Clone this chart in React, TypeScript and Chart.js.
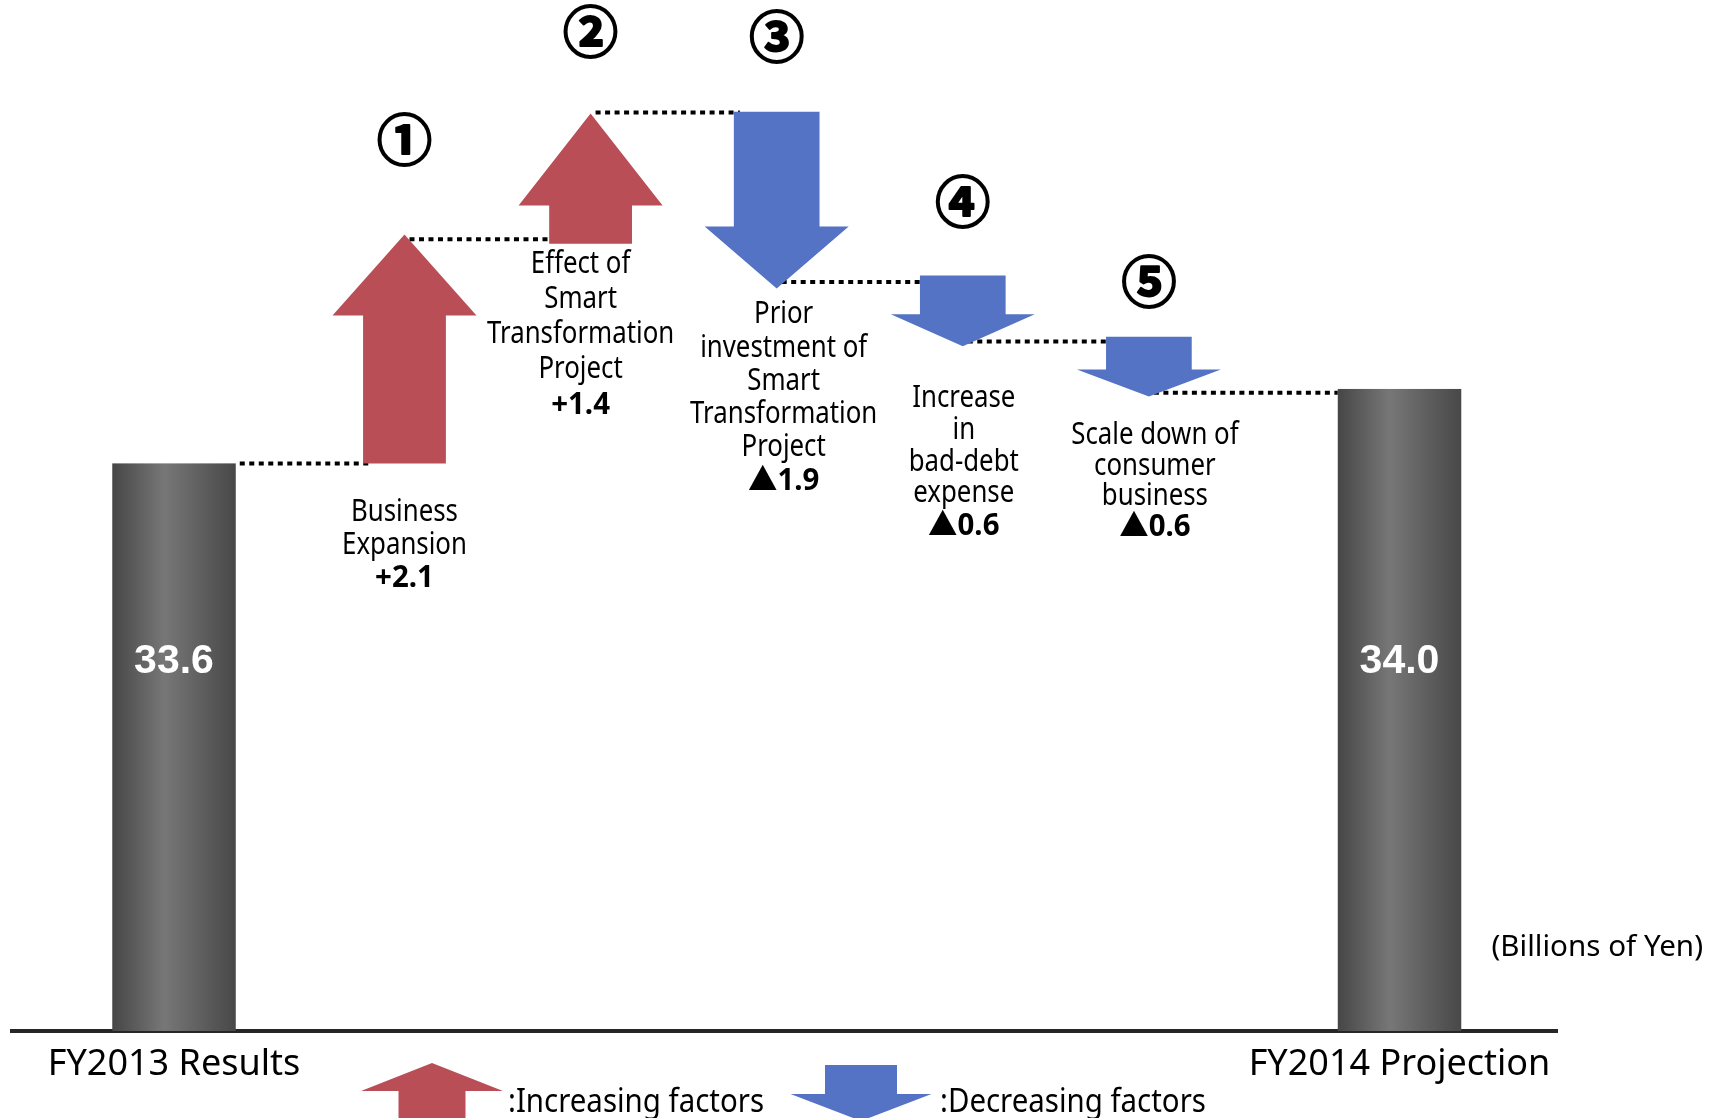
import { useEffect, useRef } from 'react';
import { Chart, registerables } from 'chart.js';

Chart.register(...registerables);

// ---------------- data ----------------
const totalLabels = ['FY2013 Results', 'FY2014 Projection'];
const totalValues = [33.6, 34.0];

const factorNames = [
  ['Business', 'Expansion'],
  ['Effect of', 'Smart', 'Transformation', 'Project'],
  ['Prior', 'investment of', 'Smart', 'Transformation', 'Project'],
  ['Increase', 'in', 'bad-debt', 'expense'],
  ['Scale down of', 'consumer', 'business'],
];
const factorValues = [2.1, 1.4, -1.9, -0.6, -0.6];
const factorMarks = ['①', '②', '③', '④', '⑤'];
// extent of each arrow as drawn (schematic)
const arrowFrom = [33.6, 34.78, 35.49, 34.61, 34.28];
const arrowTo = [34.83, 35.48, 34.54, 34.23, 33.96];

const unitLabel = '(Billions of Yen)';
const legendLabels = [':Increasing factors', ':Decreasing factors'];

// ---------------- styles ----------------
const RED = '#BA4E57';
const BLUE = '#5473C4';
const TEXT_FONT = '"Noto Sans", "Noto Sans CJK JP", sans-serif';
const TEXT_SCALE = 0.86;
const arrowHead = [81, 92, 62, 32, 27];
const labelGap = [58, 29, 35, 61, 48];
const labelLead = [32.5, 35, 33.2, 31.7, 30.3];
const labelDx = [0, -10, 7, 1, 6];
const markRise = [95, 82, 76, 74, 56];

const fmt = (v: number) => (v > 0 ? '+' : '▲') + Math.abs(v).toFixed(1);

function drawText(
  ctx: CanvasRenderingContext2D,
  text: string,
  x: number,
  y: number,
  font: string,
  sx: number,
  align: CanvasTextAlign = 'center',
  baseline: CanvasTextBaseline = 'alphabetic',
  color = '#000',
  strokeW = 0
) {
  ctx.save();
  ctx.translate(x, y);
  ctx.scale(sx, 1);
  ctx.font = font;
  ctx.textAlign = align;
  ctx.textBaseline = baseline;
  ctx.fillStyle = color;
  ctx.fillText(text, 0, 0);
  if (strokeW > 0) {
    ctx.strokeStyle = color;
    ctx.lineWidth = strokeW;
    ctx.lineJoin = 'round';
    ctx.strokeText(text, 0, 0);
  }
  ctx.restore();
}

function arrowPath(
  ctx: CanvasRenderingContext2D,
  cx: number,
  top: number,
  bottom: number,
  headW: number,
  shaftW: number,
  headH: number,
  up: boolean
) {
  ctx.beginPath();
  if (up) {
    ctx.moveTo(cx, top);
    ctx.lineTo(cx + headW / 2, top + headH);
    ctx.lineTo(cx + shaftW / 2, top + headH);
    ctx.lineTo(cx + shaftW / 2, bottom);
    ctx.lineTo(cx - shaftW / 2, bottom);
    ctx.lineTo(cx - shaftW / 2, top + headH);
    ctx.lineTo(cx - headW / 2, top + headH);
  } else {
    ctx.moveTo(cx - shaftW / 2, top);
    ctx.lineTo(cx + shaftW / 2, top);
    ctx.lineTo(cx + shaftW / 2, bottom - headH);
    ctx.lineTo(cx + headW / 2, bottom - headH);
    ctx.lineTo(cx, bottom);
    ctx.lineTo(cx - headW / 2, bottom - headH);
    ctx.lineTo(cx - shaftW / 2, bottom - headH);
  }
  ctx.closePath();
  ctx.fill();
}

const shaftRatio = (up: boolean) => (up ? 0.575 : 0.595);
const TOTAL_W = 123.5;

const decorPlugin = {
  id: 'waterfallDecor',
  beforeDatasetsDraw(chart: any) {
    const ctx: CanvasRenderingContext2D = chart.ctx;
    const tot = chart.getDatasetMeta(0).data.map((e: any) => e.getProps(['x', 'y', 'base', 'width'], true));
    const arr = chart.getDatasetMeta(1).data.map((e: any) => e.getProps(['x', 'y', 'base', 'width'], true));
    type Node = { endY: number; startY: number; xOut: number; xIn: number };
    const nodes: Node[] = [];
    nodes.push({ endY: tot[0].y, startY: tot[0].y, xOut: tot[0].x + tot[0].width / 2 + 4, xIn: tot[0].x - tot[0].width / 2 });
    arr.forEach((a: any, i: number) => {
      const up = factorValues[i] > 0;
      nodes.push({
        endY: up ? a.y : a.base,
        startY: up ? a.base : a.y,
        xOut: a.x + 5,
        xIn: a.x - (a.width * shaftRatio(up)) / 2 + 6,
      });
    });
    nodes.push({ endY: tot[1].y, startY: tot[1].y, xOut: tot[1].x + tot[1].width / 2, xIn: tot[1].x - tot[1].width / 2 });
    ctx.save();
    ctx.strokeStyle = '#000';
    ctx.lineWidth = 4;
    ctx.setLineDash([5, 4.5]);
    for (let i = 0; i < nodes.length - 1; i++) {
      const a = nodes[i];
      const b = nodes[i + 1];
      const y = (a.endY + b.startY) / 2;
      ctx.beginPath();
      ctx.moveTo(a.xOut, y);
      ctx.lineTo(b.xIn, y);
      ctx.stroke();
    }
    ctx.restore();
  },
  beforeDatasetDraw(chart: any, args: any) {
    const ctx: CanvasRenderingContext2D = chart.ctx;
    const bottomPx = chart.chartArea.bottom;
    if (args.index === 0) {
      ctx.save();
      args.meta.data.forEach((el: any) => {
        const { x, y, base, width } = el.getProps(['x', 'y', 'base', 'width'], true);
        const b = Math.min(base, bottomPx);
        const g = ctx.createLinearGradient(x - width / 2, 0, x + width / 2, 0);
        g.addColorStop(0, '#464646');
        g.addColorStop(0.42, '#777777');
        g.addColorStop(1, '#484848');
        ctx.fillStyle = g;
        ctx.fillRect(x - width / 2, y, width, b - y);
      });
      ctx.restore();
      return false;
    }
    if (args.index !== 1) return;
    ctx.save();
    args.meta.data.forEach((el: any, i: number) => {
      const { x, y, base, width } = el.getProps(['x', 'y', 'base', 'width'], true);
      const up = factorValues[i] > 0;
      ctx.fillStyle = up ? RED : BLUE;
      arrowPath(ctx, x, y, base, width, width * shaftRatio(up), arrowHead[i], up);
    });
    ctx.restore();
    return false;
  },
  afterDatasetsDraw(chart: any) {
    const ctx: CanvasRenderingContext2D = chart.ctx;
    const area = chart.chartArea;
    // labels inside totals
    chart.getDatasetMeta(0).data.forEach((el: any, i: number) => {
      const { x } = el.getProps(['x'], true);
      drawText(ctx, totalValues[i].toFixed(1), x, area.top + 673, 'bold 41px "Liberation Sans", Arial, sans-serif', 1, 'center', 'alphabetic', '#fff');
    });
    // factor labels + circled numbers
    chart.getDatasetMeta(1).data.forEach((el: any, i: number) => {
      const { x, y, base } = el.getProps(['x', 'y', 'base'], true);
      const cx = x + labelDx[i];
      let by = base + labelGap[i];
      factorNames[i].forEach((line) => {
        drawText(ctx, line, cx, by, `30px ${TEXT_FONT}`, TEXT_SCALE);
        by += labelLead[i];
      });
      drawText(ctx, fmt(factorValues[i]), cx, by + 1, `bold 31px ${TEXT_FONT}`, 0.95);
      drawText(ctx, factorMarks[i], x, y - markRise[i], 'bold 55px "Noto Sans CJK JP", sans-serif', 1, 'center', 'middle', '#000', 2);
    });
    // unit
    drawText(ctx, unitLabel, chart.width - 18, area.bottom - 75, `29px ${TEXT_FONT}`, 1.02, 'right');
    // legend
    const ly = chart.height;
    ctx.save();
    ctx.fillStyle = RED;
    arrowPath(ctx, 432, ly - 55, ly + 10, 142, 67, 28, true);
    ctx.fillStyle = BLUE;
    arrowPath(ctx, 861, ly - 53, ly + 3, 141, 72, 27, false);
    ctx.restore();
    drawText(ctx, legendLabels[0], 508, ly - 6, `32px ${TEXT_FONT}`, 0.92, 'left');
    drawText(ctx, legendLabels[1], 940, ly - 6, `32px ${TEXT_FONT}`, 0.92, 'left');
  },
};

export default function App() {
  const ref = useRef<HTMLCanvasElement | null>(null);
  useEffect(() => {
    if (!ref.current) return;
    const chart = new Chart(ref.current, {
      type: 'bar',
      data: {
        datasets: [
          {
            label: 'Totals',
            data: totalValues.map((v, i) => ({ x: i, y: v })),
            xAxisID: 'xTot',
            yAxisID: 'y',
            grouped: false,
            barThickness: TOTAL_W,
            backgroundColor: '#606060',
          } as any,
          {
            label: 'Factors',
            data: arrowFrom.map((f, i) => ({ x: i, y: [f, arrowTo[i]] })),
            xAxisID: 'xFac',
            yAxisID: 'y',
            grouped: false,
            barThickness: 144,
            backgroundColor: factorValues.map((v) => (v > 0 ? RED : BLUE)),
          } as any,
        ],
      },
      options: {
        animation: false,
        responsive: false,
        devicePixelRatio: 1,
        layout: { padding: { left: 12, right: 164, top: 0, bottom: 0 } },
        plugins: { legend: { display: false }, tooltip: { enabled: false } },
        scales: {
          xTot: {
            type: 'linear',
            position: 'bottom',
            offset: false,
            bounds: 'data',
            min: -0.1322,
            max: 1.1285,
            grid: { display: false, drawTicks: false, offset: false },
            border: { display: true, color: '#262626', width: 4 },
            afterBuildTicks: (axis: any) => {
              axis.ticks = totalValues.map((_, i) => ({ value: i }));
            },
            afterFit: (axis: any) => {
              axis.height = 87;
            },
            ticks: {
              callback: (v: any) => totalLabels[v as number] ?? '',
              font: { family: '"Noto Sans"', size: 36 },
              color: '#000',
              padding: 12,
              maxRotation: 0,
              autoSkip: false,
            },
          },
          xFac: {
            type: 'linear',
            display: false,
            offset: false,
            bounds: 'data',
            grid: { offset: false },
            min: -2.109,
            max: 6.193,
          },
          y: {
            type: 'linear',
            display: false,
            min: 30.55,
            max: 36.09,
          },
        } as any,
      },
      plugins: [decorPlugin as any],
    });
    return () => chart.destroy();
  }, []);
  return (
    <div style={{ position: 'fixed', left: 0, top: 0, width: 1721, height: 1118, background: '#fff' }}>
      <canvas ref={ref} width={1721} height={1118} style={{ display: 'block', width: 1721, height: 1118 }} />
    </div>
  );
}
